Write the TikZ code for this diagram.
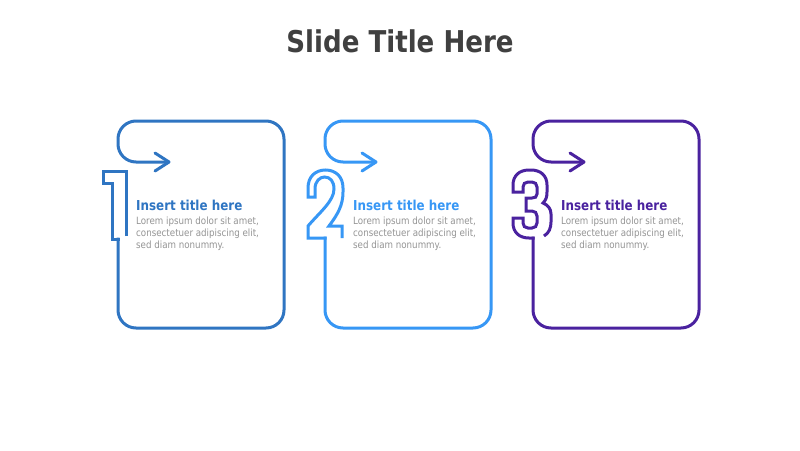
\documentclass[tikz,border=0pt]{standalone}
\usepackage{fontspec}
\newfontfamily\tfont{DejaVu Sans}[FakeStretch=0.87]
\definecolor{cone}{HTML}{2F75C2}
\definecolor{ctwo}{HTML}{3797F5}
\definecolor{cthree}{HTML}{4A229F}
\definecolor{ctitle}{HTML}{404040}
\definecolor{cbody}{HTML}{959595}
\tikzset{
  frameline/.style={line width=3pt, line cap=butt, line join=miter},
  headline/.style={line width=3pt, line cap=round, line join=round},
  slidetitle/.style={inner sep=0pt, anchor=base, text=ctitle, font=\tfont\bfseries\fontsize{30}{36}\selectfont},
  itemtitle/.style={inner sep=0pt, anchor=base west, font=\tfont\bfseries\fontsize{13.7}{16}\selectfont},
  itembody/.style={inner sep=0pt, anchor=base west, text=cbody, font=\tfont\fontsize{10}{12}\selectfont},
}
\newcommand{\drawstepframe}[3]{% #1 left x, #2 junction y, #3 colour
  \draw[frameline, #3, rounded corners=18pt] (#1,#2-1.5) -- (#1,328) -- (#1+166,328) -- (#1+166,121) -- (#1,121) -- (#1,162) -- (#1+51,162);
  \draw[headline, #3] (#1+37,153) -- (#1+51,162) -- (#1+37,171);
}
\begin{document}
\begin{tikzpicture}[x=1pt,y=-1pt]
\useasboundingbox (0,0) rectangle (800,450);
\fill[white] (0,0) rectangle (800,450);
\node[slidetitle] (title) at (400,52) {Slide Title Here};

% ---- box 1
\drawstepframe{118}{239}{cone}
\draw[frameline, cone] (126,236) -- (126,171) -- (103,171) -- (103,183) -- (112,183) -- (112,239) -- (119.5,239);
\node[itemtitle, text=cone] (t1) at (136,210) {Insert title here};
\node[itembody] (b1a) at (136,224) {Lorem ipsum dolor sit amet,};
\node[itembody] (b1b) at (136,236) {consectetuer adipiscing elit,};
\node[itembody] (b1c) at (136,248) {sed diam nonummy.};

% ---- box 2
\drawstepframe{325}{238}{ctwo}
\draw[frameline, ctwo] (342,238) -- (342,226) -- (329,226)
  .. controls (338,214) and (343,205) .. (343,192)
  -- (343,188) .. controls (343,177) and (336,170) .. (325.5,170)
  .. controls (315,170) and (308,177) .. (308,188)
  -- (308,197) -- (315,197) -- (315,189)
  .. controls (315,181) and (320,177) .. (324.5,177)
  .. controls (330,177) and (334,181) .. (334,189)
  .. controls (334,201) and (320,212) .. (308,226)
  -- (308,238) -- (326.5,238);
\node[itemtitle, text=ctwo] (t2) at (353,210) {Insert title here};
\node[itembody] (b2a) at (353,224) {Lorem ipsum dolor sit amet,};
\node[itembody] (b2b) at (353,236) {consectetuer adipiscing elit,};
\node[itembody] (b2c) at (353,248) {sed diam nonummy.};

% ---- box 3
\drawstepframe{533}{238}{cthree}
\draw[frameline, cthree] (544,236)
  .. controls (549,233) and (551,228) .. (551,222) -- (551,214)
  .. controls (551,209) and (548,205) .. (543,203)
  .. controls (546,200) and (547,197) .. (547,192) -- (547,185)
  .. controls (547,176) and (541,170) .. (531,170) -- (529,170)
  .. controls (519,170) and (513,176) .. (513,185) -- (513,192) -- (523,192) -- (523,187)
  .. controls (523,184) and (525,182) .. (528,182) -- (532,182)
  .. controls (535,182) and (537,184) .. (537,187) -- (537,194)
  .. controls (537,197) and (535,198) .. (532,198) -- (526,198) -- (526,211) -- (532,211)
  .. controls (535,211) and (537,213) .. (537,216) -- (537,223)
  .. controls (537,226) and (535,228) .. (532,228) -- (528,228)
  .. controls (525,228) and (523,226) .. (523,223) -- (523,218) -- (513,218) -- (513,223)
  .. controls (513,232) and (519,238) .. (529,238) -- (534.5,238);
\node[itemtitle, text=cthree] (t3) at (561,210) {Insert title here};
\node[itembody] (b3a) at (561,224) {Lorem ipsum dolor sit amet,};
\node[itembody] (b3b) at (561,236) {consectetuer adipiscing elit,};
\node[itembody] (b3c) at (561,248) {sed diam nonummy.};
\end{tikzpicture}
\end{document}
